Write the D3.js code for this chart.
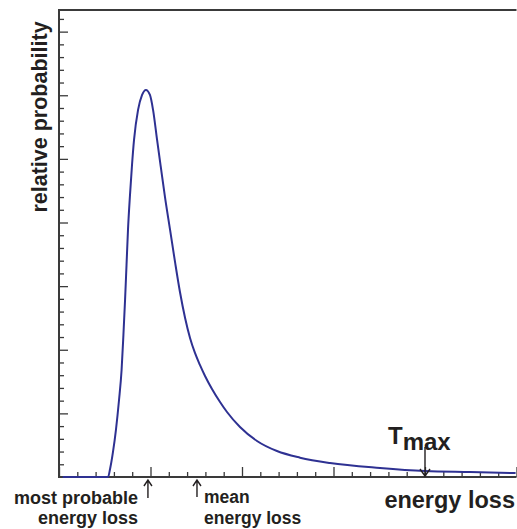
<!DOCTYPE html>
<html>
<head>
<meta charset="utf-8">
<script src="https://cdn.jsdelivr.net/npm/d3@7"></script>
<style>
  body { margin: 0; background: #fff; }
  text { font-family: "Liberation Sans", Arial, sans-serif; font-weight: bold; fill: #231f20; }
</style>
</head>
<body>
<div id="chart"></div>
<script>
// Energy loss distribution (Landau-like)
var lossX = [0.2, 2.68, 2.79, 2.95, 3.11, 3.28, 3.42, 3.52, 3.61, 3.69, 3.77, 3.88, 3.99, 4.1, 4.32, 4.54, 4.75,
  4.97, 5.14, 5.36, 5.57, 5.79, 6.07, 6.34, 6.61, 6.89, 7.16, 7.43, 7.7, 7.98, 8.36, 8.8, 9.18, 9.89, 10.82,
  11.91, 13.17, 14.81, 17.54, 20.0, 22.46, 24.95];
var probY = [0, 0, 0.63, 1.97, 3.69, 6.05, 8.41, 11.16, 13.92, 16.67, 19.42, 22.17, 24.53, 26.49, 28.85, 30.03, 30.42,
  30.03, 28.85, 26.49, 24.29, 22.01, 19.42, 16.9, 14.54, 12.5, 10.93, 9.75, 8.81, 7.94, 6.92, 5.9, 5.11, 3.93, 2.83,
  2.04, 1.52, 1.1, 0.71, 0.47, 0.39, 0.31];

// marker positions on the energy axis
var markerNames = ["mostProbable", "mean", "tmax"];
var markerX = [4.86, 7.54, 20.0];

var xMajor = [0, 5, 10, 15, 20, 25];
var yMajor = [5, 10, 15, 20, 25, 30, 35];

var svgWidth = 517;
var svgHeight = 529;

var margin = { top: 10, right: 0.5, bottom: 52, left: 59 };
var chartWidth = svgWidth - margin.left - margin.right;
var chartHeight = svgHeight - margin.top - margin.bottom;

var svg = d3.select("#chart")
  .append("svg")
  .attr("width", svgWidth)
  .attr("height", svgHeight);

var chartGroup = svg.append("g")
  .attr("transform", `translate(${margin.left}, ${margin.top})`);

var xScale = d3.scaleLinear().domain([0, 25]).range([0, chartWidth]);
var yScale = d3.scaleLinear().domain([0, 36.7]).range([chartHeight, 0]);

var axisColor = "#3a3a3a";

// minor + major ticks pointing inward
var xMinor = d3.range(1, 25).filter(d => d % 5 !== 0);
var yMinor = d3.range(1, 37).filter(d => d % 5 !== 0);

var bottomMinor = d3.axisBottom(xScale).tickValues(xMinor).tickSize(-5).tickFormat("");
var bottomMajor = d3.axisBottom(xScale).tickValues(xMajor).tickSize(-10).tickFormat("");
var leftMinor = d3.axisLeft(yScale).tickValues(yMinor).tickSize(-5).tickFormat("");
var leftMajor = d3.axisLeft(yScale).tickValues(yMajor).tickSize(-9).tickFormat("");

[bottomMinor, bottomMajor].forEach(function(ax) {
  chartGroup.append("g")
    .attr("transform", `translate(0, ${chartHeight})`)
    .call(ax)
    .call(g => g.select(".domain").remove())
    .selectAll("line").attr("stroke", axisColor).attr("stroke-width", 1.3);
});
[leftMinor, leftMajor].forEach(function(ax) {
  chartGroup.append("g")
    .call(ax)
    .call(g => g.select(".domain").remove())
    .selectAll("line").attr("stroke", axisColor).attr("stroke-width", 1.3);
});

// frame lines: left, bottom, top (no right side)
chartGroup.append("path")
  .attr("d", `M${chartWidth},0H0V${chartHeight}H${chartWidth}`)
  .attr("fill", "none")
  .attr("stroke", axisColor)
  .attr("stroke-width", 2);

// curve
var pts = lossX.map((d, i) => [d, probY[i]]);
var line = d3.line()
  .x(d => xScale(d[0]))
  .y(d => yScale(d[1]))
  .curve(d3.curveMonotoneX);

chartGroup.append("path")
  .datum(pts)
  .attr("d", line)
  .attr("fill", "none")
  .attr("stroke", "#2e3192")
  .attr("stroke-width", 2);

// arrows
function upArrow(x, y1, y2) {
  chartGroup.append("path")
    .attr("d", `M${x},${y2}V${y1}M${x - 4},${y1 + 6}L${x},${y1}L${x + 4},${y1 + 6}`)
    .attr("fill", "none")
    .attr("stroke", "#231f20")
    .attr("stroke-width", 1.4);
}
function downArrow(x, y1, y2) {
  chartGroup.append("path")
    .attr("d", `M${x},${y1}V${y2}M${x - 5},${y2 - 7}L${x},${y2}L${x + 5},${y2 - 7}`)
    .attr("fill", "none")
    .attr("stroke", "#231f20")
    .attr("stroke-width", 1.4);
}
upArrow(xScale(markerX[0]), chartHeight + 3, chartHeight + 21);
upArrow(xScale(markerX[1]), chartHeight + 3, chartHeight + 20);
downArrow(xScale(markerX[2]), chartHeight - 30, chartHeight - 1);

// labels
svg.append("text")
  .attr("x", 76).attr("y", 504)
  .attr("text-anchor", "middle")
  .attr("font-size", "18px")
  .text("most probable");
svg.append("text")
  .attr("x", 88).attr("y", 524)
  .attr("text-anchor", "middle")
  .attr("font-size", "18px")
  .text("energy loss");

svg.append("text")
  .attr("x", 204).attr("y", 503)
  .attr("font-size", "17.5px")
  .text("mean");
svg.append("text")
  .attr("x", 204).attr("y", 524)
  .attr("font-size", "17.5px")
  .text("energy loss");

var tmax = svg.append("text")
  .attr("x", 388).attr("y", 444)
  .attr("font-size", "24px");
tmax.append("tspan").text("T");
tmax.append("tspan").attr("dy", 6).text("max");

svg.append("text")
  .attr("x", 515).attr("y", 508)
  .attr("text-anchor", "end")
  .attr("font-size", "23.5px")
  .text("energy loss");

svg.append("text")
  .attr("transform", "translate(47, 117) rotate(-90)")
  .attr("text-anchor", "middle")
  .attr("font-size", "21.5px")
  .text("relative probability");
</script>
</body>
</html>
